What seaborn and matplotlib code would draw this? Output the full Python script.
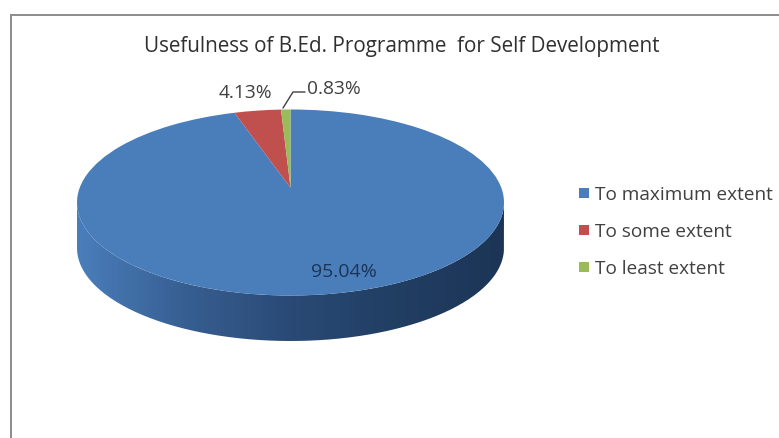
import numpy as np
import matplotlib
matplotlib.use("Agg")
import matplotlib.pyplot as plt
from matplotlib.colors import LinearSegmentedColormap
from matplotlib.patches import PathPatch, Rectangle
from matplotlib.path import Path
from matplotlib.transforms import Transform
import seaborn as sns

title = "Usefulness of B.Ed. Programme  for Self Development"
categories = ["To maximum extent", "To some extent", "To least extent"]
shares = [95.04, 4.13, 0.83]
share_labels = ["95.04%", "4.13%", "0.83%"]
slice_colors = ["#4a7ebb", "#c0504d", "#9bbb59"]
rim_colors = ["#4a7ebb", "#375f92", "#2a4a75", "#213e63", "#1c3556"]
text_color = "#404040"


class DiscTilt(Transform):
    """Projective map of the unit disc onto itself that slides its centre along y."""

    input_dims = 2
    output_dims = 2

    def __init__(self, shift):
        super().__init__()
        self.shift = shift

    def transform_non_affine(self, values):
        x, y = np.asarray(values).T
        t = self.shift
        w = 1 + t * y
        return np.column_stack([x * np.sqrt(1 - t**2) / w, (y + t) / w])


sns.set_theme(style="white")
plt.rcParams["font.family"] = ["Open Sans", "DejaVu Sans"]

W, H = 779, 439
fig = plt.figure(figsize=(W / 100, H / 100), dpi=100, facecolor="white")

# Chart frame running off the right and bottom edges
fig.add_artist(Rectangle((10.5 / W, -0.05), 1.0, 1 - 15.5 / H + 0.05,
                         transform=fig.transFigure, facecolor="none",
                         edgecolor="#8c8c8c", linewidth=1.4))

# Axes in which the pie's unit radius becomes the disc's two semi-axes;
# they reach down far enough to hold the rim as well
cx, cy, rx, ry, depth = 290.5, 203.5, 213.5, 93.0, 45.5
d = depth / ry
ax = fig.add_axes([(cx - rx) / W, 1 - (cy + ry + depth) / H,
                   2 * rx / W, (2 * ry + depth) / H])
ax.patch.set_visible(False)

wedges, _ = ax.pie(shares, colors=slice_colors, startangle=90, counterclock=False,
                   radius=1.0, wedgeprops={"linewidth": 0})
ax.set_aspect("auto")

# Lean the disc away from the viewer, so the far slices narrow
tilt = DiscTilt(0.16)
for wedge in wedges:
    wedge.set_transform(tilt + ax.transData)

# Rim of the disc: a horizontal shade clipped to the lower half of the ellipse
theta = np.linspace(np.pi, 2 * np.pi, 200)
upper = np.column_stack([np.cos(theta), np.sin(theta)])
lower = upper[::-1] - [0, d]
verts = np.vstack([upper, lower, upper[:1]])
rim = PathPatch(Path(verts), facecolor="none", edgecolor="none", transform=ax.transData)
ax.add_patch(rim)
shade = LinearSegmentedColormap.from_list("rim", rim_colors)
img = ax.imshow(np.linspace(0, 1, 256)[None, :], cmap=shade, aspect="auto",
                extent=(-1, 1, -1 - d, 0), zorder=0.5)
img.set_clip_path(rim)
ax.set_xlim(-1, 1)
ax.set_ylim(-1 - d, 1)
ax.axis("off")


def fx(x):
    return x / W


def fy(y):
    return 1 - y / H


fig.text(fx(401.5), fy(46.5), title, ha="center", va="center", fontsize=14.9, color="#303030")
fig.text(fx(344), fy(272), share_labels[0], ha="center", va="center", fontsize=14, color="#1c3556")
fig.text(fx(245.5), fy(93), share_labels[1], ha="center", va="center", fontsize=13.8, color=text_color)
fig.text(fx(333.5), fy(89), share_labels[2], ha="center", va="center", fontsize=13.8, color=text_color)

# Leader line from the smallest slice to its label
fig.add_artist(plt.Line2D([fx(283), fx(293), fx(305)], [fy(109), fy(93), fy(93)],
                          color="#404040", linewidth=1.0))

# Legend entries
legend_y = [194, 231, 268]
for name, color, y in zip(categories, slice_colors, legend_y):
    fig.add_artist(Rectangle((fx(578.5), fy(y + 5)), 10 / W, 10 / H,
                             transform=fig.transFigure, facecolor=color, edgecolor="none"))
    fig.text(fx(595), fy(y + 1), name, ha="left", va="center", fontsize=13.7, color=text_color)

fig.savefig("out.png", dpi=100)
